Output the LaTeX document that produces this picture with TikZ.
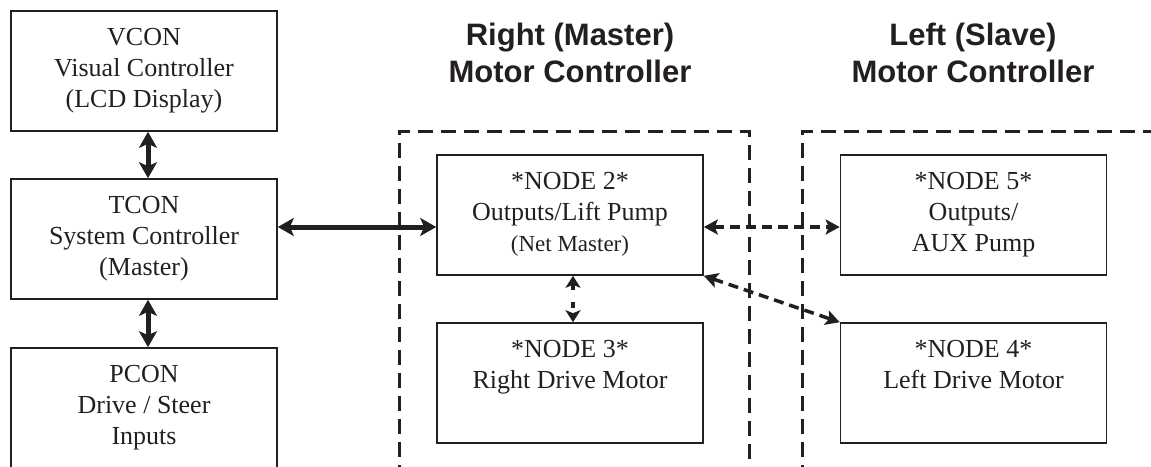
\documentclass[tikz,border=0pt]{standalone}
\usepackage{fontspec}
\setmainfont{Liberation Serif}
\newfontfamily\headfont{Liberation Sans}
\usetikzlibrary{arrows.meta}
\definecolor{ink}{RGB}{35,31,32}

% box contents: fixed size, text hung from the top edge
\newcommand{\unittext}[1]{%
  \begin{minipage}[t][120pt][t]{266pt}\centering
  \fontsize{26}{31}\selectfont\vspace*{13pt}\strut #1\end{minipage}}

\tikzset{
  unit/.style={draw=ink, line width=1.6pt, inner sep=0pt, text=ink},
  heading/.style={anchor=north, align=center, inner sep=0pt, text=ink,
    font=\headfont\bfseries\fontsize{31}{37}\selectfont},
  zone/.style={draw=ink, line width=3pt, dash pattern=on 15pt off 8pt},
  bus/.style={draw=ink, line width=5pt,
    {Stealth[length=16pt,width=18pt,inset=4pt]}-{Stealth[length=16pt,width=18pt,inset=4pt]}},
  link/.style={draw=ink, line width=3.5pt, dash pattern=on 10pt off 6pt,
    {Stealth[length=14pt,width=15pt,inset=3pt]}-{Stealth[length=14pt,width=15pt,inset=3pt]}},
  shortlink/.style={draw=ink, line width=3.5pt, dash pattern=on 6pt off 12pt,
    {Stealth[length=12pt,width=15pt,inset=3pt]}-{Stealth[length=12pt,width=15pt,inset=3pt]}},
}

\begin{document}
\begin{tikzpicture}[x=1pt, y=-1pt]
\useasboundingbox (0,0) rectangle (1151,466);
\clip (0,0) rectangle (1151,466);

% controller zones
\draw[zone] (399,480) -- (399,131) -- (749,131) -- (749,480);
\draw[zone] (802,480) -- (802,131) -- (1170,131);

% headings
\node[heading] (hright) at (570,23) {Right (Master)\\Motor Controller};
\node[heading] (hleft) at (973,23) {Left (Slave)\\Motor Controller};

% left column
\node[unit] (vcon) at (144,71) {\unittext{VCON\\Visual Controller\\(LCD Display)}};
\node[unit] (tcon) at (144,239) {\unittext{TCON\\System Controller\\(Master)}};
\node[unit] (pcon) at (144,408) {\unittext{PCON\\Drive / Steer\\Inputs}};

% right (master) controller
\node[unit] (node2) at (570,215) {\unittext{*NODE 2*\\Outputs/Lift Pump\\{\fontsize{23}{31}\selectfont(Net Master)}}};
\node[unit] (node3) at (570,383) {\unittext{*NODE 3*\\Right Drive Motor}};

% left (slave) controller
\node[unit] (node5) at (973.5,215) {\unittext{*NODE 5*\\Outputs/\\AUX Pump}};
\node[unit] (node4) at (973.5,383) {\unittext{*NODE 4*\\Left Drive Motor}};

% connections
\draw[bus] ([xshift=4pt]vcon.south) -- ([xshift=4pt]tcon.north);
\draw[bus] ([xshift=4pt]tcon.south) -- ([xshift=4pt]tcon.south |- pcon.north);
\draw[bus] ([yshift=12pt]tcon.east) -- ([yshift=-12pt]node2.west);
\draw[shortlink] ([xshift=3pt]node2.south) -- ([xshift=3pt]node3.north);
\draw[link] ([yshift=-12pt]node2.east) -- ([yshift=-12pt]node5.west);
\draw[link] (node2.south east) -- (node4.north west);
\end{tikzpicture}
\end{document}
